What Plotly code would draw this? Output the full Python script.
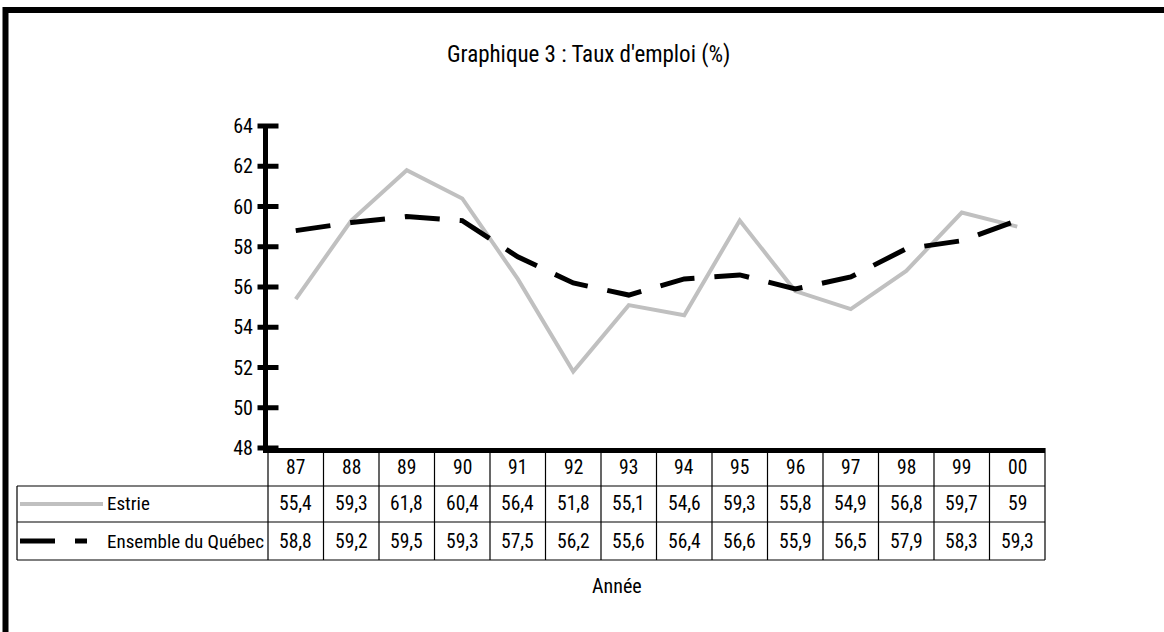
import plotly.graph_objects as go

# --- data -------------------------------------------------------------
annees = ["87", "88", "89", "90", "91", "92", "93", "94", "95", "96", "97", "98", "99", "00"]
estrie = [55.4, 59.3, 61.8, 60.4, 56.4, 51.8, 55.1, 54.6, 59.3, 55.8, 54.9, 56.8, 59.7, 59]
quebec = [58.8, 59.2, 59.5, 59.3, 57.5, 56.2, 55.6, 56.4, 56.6, 55.9, 56.5, 57.9, 58.3, 59.3]
y_ticks = [48, 50, 52, 54, 56, 58, 60, 62, 64]
series_names = ["Estrie", "Ensemble du Québec"]

# --- layout geometry (pixels) -----------------------------------------
W, H = 1164, 632
ML, MR, MT, MB = 268, 119, 126, 184
PW = W - ML - MR
PH = H - MT - MB
FONT = "Roboto Condensed, Liberation Sans Narrow, sans-serif"


def px(x):
    """Horizontal pixel -> paper fraction."""
    return (x - ML) / PW


def py(y):
    """Vertical pixel -> paper fraction."""
    return (MT + PH - y) / PH


n = len(annees)
xs = list(range(n))

fig = go.Figure()

fig.add_trace(go.Scatter(
    x=xs, y=estrie, mode="lines", name=series_names[0],
    line=dict(color="#c0c0c0", width=4),
    showlegend=False, hoverinfo="skip",
))
fig.add_trace(go.Scatter(
    x=xs, y=quebec, mode="lines", name=series_names[1],
    line=dict(color="black", width=5, dash="35px,20px"),
    showlegend=False, hoverinfo="skip",
))
# tick marks crossing the value axis
fig.add_trace(go.Scatter(
    x=[-0.5] * len(y_ticks), y=y_ticks, mode="markers",
    marker=dict(symbol="line-ew", size=15, line=dict(color="black", width=5)),
    cliponaxis=False, showlegend=False, hoverinfo="skip",
))

shapes = []
annotations = []
grid = dict(color="black", width=1.2)

# data table below the chart
row_tops = [448, 486, 522, 560]
left_px = 17
for i in range(n + 1):
    xp = i / n
    shapes.append(dict(type="line", xref="paper", yref="paper",
                       x0=xp, x1=xp, y0=py(row_tops[0]), y1=py(row_tops[-1]), line=grid))
for yy in row_tops[1:]:
    shapes.append(dict(type="line", xref="paper", yref="paper",
                       x0=px(left_px), x1=1, y0=py(yy), y1=py(yy), line=grid))
shapes.append(dict(type="line", xref="paper", yref="paper",
                   x0=px(left_px), x1=px(left_px), y0=py(row_tops[1]), y1=py(row_tops[-1]), line=grid))


def row_mid(k):
    return py((row_tops[k] + row_tops[k + 1]) / 2)


cell_font = dict(size=19.5)
for i, a in enumerate(annees):
    annotations.append(dict(x=i, y=row_mid(0), xref="x", yref="paper", text=a,
                            xanchor="center", yanchor="middle",
                            showarrow=False, font=cell_font))
    for k, vals in ((1, estrie), (2, quebec)):
        annotations.append(dict(x=i, y=row_mid(k), xref="x", yref="paper",
                                text=f"{vals[i]:g}".replace(".", ","),
                                xanchor="center", yanchor="middle",
                                showarrow=False, font=cell_font))

# legend keys in the table
shapes.append(dict(type="line", xref="paper", yref="paper",
                   x0=px(20), x1=px(103), y0=row_mid(1), y1=row_mid(1),
                   line=dict(color="#c0c0c0", width=4)))
shapes.append(dict(type="line", xref="paper", yref="paper",
                   x0=px(20), x1=px(55), y0=row_mid(2), y1=row_mid(2),
                   line=dict(color="black", width=5)))
shapes.append(dict(type="line", xref="paper", yref="paper",
                   x0=px(75), x1=px(87), y0=row_mid(2), y1=row_mid(2),
                   line=dict(color="black", width=5)))
for k, name in ((1, series_names[0]), (2, series_names[1])):
    annotations.append(dict(x=px(105), y=row_mid(k), xref="paper", yref="paper",
                            text=name, xanchor="left", yanchor="middle",
                            showarrow=False, font=dict(size=19)))

# title and axis caption
annotations.append(dict(x=px(588), y=py(55), xref="paper", yref="paper",
                        text="Graphique 3 : Taux d'emploi (%)", showarrow=False,
                        xanchor="center", yanchor="middle", font=dict(size=23)))
annotations.append(dict(x=px(617), y=py(586), xref="paper", yref="paper",
                        text="Année", showarrow=False,
                        xanchor="center", yanchor="middle", font=dict(size=20)))

# outer frame
shapes.append(dict(type="rect", xref="paper", yref="paper",
                   x0=px(5.5), x1=px(1200), y0=py(10), y1=py(700),
                   line=dict(color="black", width=6)))

fig.update_layout(
    width=W, height=H,
    margin=dict(l=ML, r=MR, t=MT, b=MB),
    paper_bgcolor="white", plot_bgcolor="white",
    font=dict(family=FONT, size=18, color="black"),
    shapes=shapes, annotations=annotations,
    xaxis=dict(range=[-0.5, n - 0.5], showgrid=False, zeroline=False,
               showticklabels=False, ticks="",
               showline=True, linecolor="black", linewidth=5),
    yaxis=dict(range=[48, 64], tickvals=y_ticks, showgrid=False, zeroline=False,
               ticks="", ticklabelstandoff=6, tickfont=dict(size=20),
               showline=True, linecolor="black", linewidth=5),
)

fig.write_html("out.html")
